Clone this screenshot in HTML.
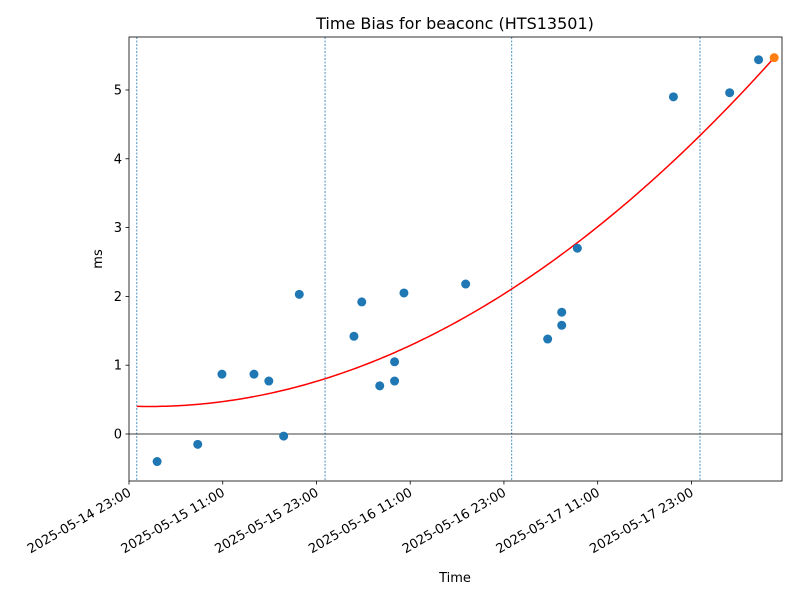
<!DOCTYPE html>
<html><head><meta charset="utf-8"><style>
body{margin:0;background:#fff;font-family:"Liberation Sans","DejaVu Sans",sans-serif;}
</style></head><body>
<svg id="chart" width="800" height="600" xmlns="http://www.w3.org/2000/svg" font-family="DejaVu Sans, Liberation Sans, sans-serif"></svg>
<script>
const xTickLabels=["2025-05-14 23:00","2025-05-15 11:00","2025-05-15 23:00","2025-05-16 11:00","2025-05-16 23:00","2025-05-17 11:00","2025-05-17 23:00"];
const xTickHours=[0,12,24,36,48,60,72];
const yTicks=[0,1,2,3,4,5];
const pointHours=[3.6,8.8,11.9,16,17.9,19.8,21.8,28.8,29.8,32.1,34,34,35.2,43.1,53.6,55.4,55.4,57.4,69.7,76.9,80.6];
const pointValues=[-0.4,-0.15,0.87,0.87,0.77,-0.03,2.03,1.42,1.92,0.70,1.05,0.77,2.05,2.18,1.38,1.77,1.58,2.70,4.90,4.96,5.44];
const lastHour=[82.6];
const lastValue=[5.47];
const vlineHours=[1,25.1,49,73.1];
const fitParams=[0.00079,2.5,0.40]; // a, t0, c
const fitRange=[1,82.6];

const L=129,R=782,T=37,B=481;
const xMin=0,xMax=83.6,yMin=-0.683,yMax=5.77;
const X=h=>L+(h-xMin)/(xMax-xMin)*(R-L);
const Y=v=>B-(v-yMin)/(yMax-yMin)*(B-T);
const svg=document.getElementById('chart');
const NS="http://www.w3.org/2000/svg";
function mk(tag,attrs,parent){const e=document.createElementNS(NS,tag);for(const k in attrs)e.setAttribute(k,attrs[k]);(parent||svg).appendChild(e);return e;}

let t=mk('text',{x:455,y:29,'text-anchor':'middle','font-size':16,fill:'#000'});t.textContent="Time Bias for beaconc (HTS13501)";



vlineHours.forEach(h=>{
 const l=mk('line',{x1:X(h),x2:X(h),y1:T,y2:B,stroke:'#1f77b4','stroke-width':0.8,'stroke-dasharray':'2,1.5'});
 
 
});
const zl=mk('line',{x1:L,x2:R,y1:Y(0),y2:Y(0),stroke:'#000','stroke-width':0.8});



let d="";
for(let i=0;i<=200;i++){const h=fitRange[0]+(fitRange[1]-fitRange[0])*i/200;const v=fitParams[0]*(h-fitParams[1])**2+fitParams[2];d+=(i?"L":"M")+X(h).toFixed(2)+","+Y(v).toFixed(2);}
const fit=mk('path',{d:d,fill:'none',stroke:'#ff0000','stroke-width':1.5});



pointHours.forEach((h,i)=>{
 const c=mk('circle',{cx:X(h),cy:Y(pointValues[i]),r:4.5,fill:'#1f77b4'});
 
 
});
lastHour.forEach((h,i)=>{
 const c=mk('circle',{cx:X(h),cy:Y(lastValue[i]),r:4.5,fill:'#ff7f0e'});
 
 
});

const frame=mk('rect',{x:L,y:T,width:R-L,height:B-T,fill:'none',stroke:'#000','stroke-width':0.8});



yTicks.forEach(v=>{
 mk('line',{x1:L-3.5,x2:L,y1:Y(v),y2:Y(v),stroke:'#000','stroke-width':0.8});
 const tx=mk('text',{x:L-7,y:Y(v)+4.5,'text-anchor':'end','font-size':13,fill:'#000'});tx.textContent=v;
 
 
});
xTickHours.forEach((h,i)=>{
 const x=X(h);
 mk('line',{x1:x,x2:x,y1:B,y2:B+3.5,stroke:'#000','stroke-width':0.8});
 const tx=mk('text',{x:x+3,y:B+14,'text-anchor':'end','font-size':13,fill:'#000',transform:`rotate(-30 ${x+3} ${B+14})`});tx.textContent=xTickLabels[i];
 
 
});
const xl=mk('text',{x:455,y:582,'text-anchor':'middle','font-size':13,fill:'#000'});xl.textContent="Time";


const yl=mk('text',{x:102,y:259,'text-anchor':'middle','font-size':13,fill:'#000',transform:'rotate(-90 102 259)'});yl.textContent="ms";


</script>
</body></html>
